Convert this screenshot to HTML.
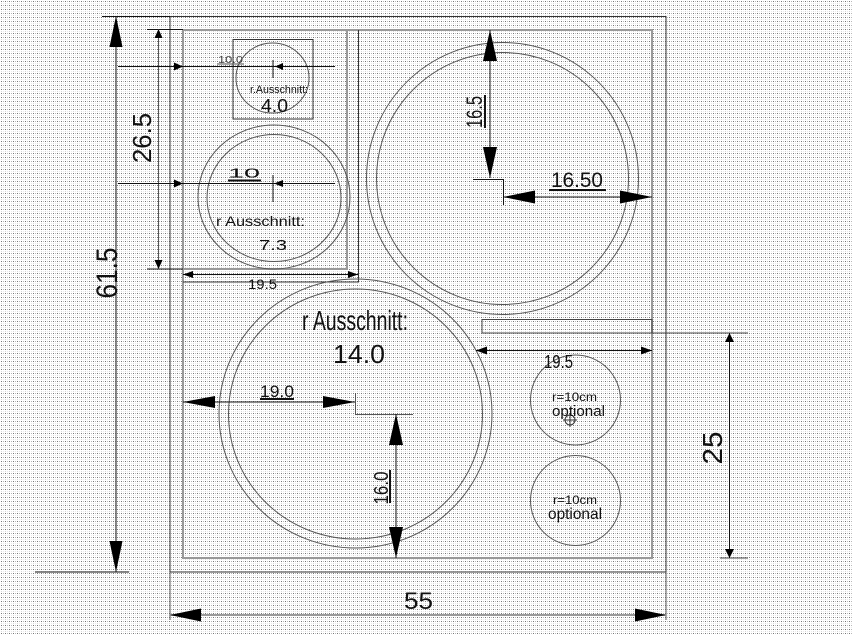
<!DOCTYPE html>
<html><head><meta charset="utf-8"><style>
html,body{margin:0;padding:0;background:#fff;}
svg{display:block;}
text{font-family:"Liberation Sans",Arial,sans-serif;fill:#111;}
</style></head><body>
<svg width="852" height="635" viewBox="0 0 852 635" xmlns="http://www.w3.org/2000/svg">
<defs>
<pattern id="d" width="4" height="4" patternUnits="userSpaceOnUse">
<rect width="4" height="4" fill="#fff"/>
<rect x="1" y="1" width="1" height="1" fill="#777"/>
<rect x="3" y="1" width="1" height="1" fill="#b8b8b8"/>
<rect x="1" y="3" width="1" height="1" fill="#d6d6d6"/>
<rect x="3" y="3" width="1" height="1" fill="#ececec"/>
</pattern>
</defs>
<rect width="852" height="635" fill="url(#d)"/>

<!-- outer frame -->
<rect x="170" y="16.5" width="496" height="555.5" fill="none" stroke="#333" stroke-width="1"/>
<!-- inner frame -->
<rect x="183" y="30" width="469" height="528" fill="none" stroke="#999" stroke-width="2"/>

<!-- left sub-compartment -->
<polyline points="347,30 347,269 183,269" fill="none" stroke="#999" stroke-width="2"/>
<polyline points="358.5,30 358.5,282 183,282" fill="none" stroke="#333" stroke-width="1"/>

<!-- small square + circle -->
<rect x="233" y="39.5" width="80" height="79.5" fill="none" stroke="#333" stroke-width="1"/>
<ellipse cx="272.5" cy="78" rx="36.5" ry="35" fill="none" stroke="#555" stroke-width="1"/>

<!-- 7.3 circle -->
<ellipse cx="274" cy="197" rx="76" ry="72" fill="none" stroke="#555" stroke-width="1"/>
<ellipse cx="274" cy="198" rx="67" ry="63.5" fill="none" stroke="#555" stroke-width="1"/>

<!-- top-right big circle -->
<circle cx="502.5" cy="178.5" r="136" fill="none" stroke="#555" stroke-width="1"/>
<circle cx="502.5" cy="178.5" r="126" fill="none" stroke="#555" stroke-width="1"/>

<!-- bottom big circle -->
<ellipse cx="355.5" cy="413.5" rx="136.5" ry="134.5" fill="none" stroke="#555" stroke-width="1"/>
<ellipse cx="355.5" cy="414" rx="127" ry="125" fill="none" stroke="#555" stroke-width="1"/>

<!-- small optional circles -->
<circle cx="575.5" cy="400" r="45" fill="none" stroke="#555" stroke-width="1"/>
<circle cx="575.5" cy="500.5" r="45" fill="none" stroke="#555" stroke-width="1"/>
<circle cx="570" cy="420" r="5" fill="none" stroke="#333" stroke-width="1"/>
<line x1="563" y1="420" x2="577" y2="420" stroke="#333" stroke-width="1"/>
<line x1="570" y1="413" x2="570" y2="427" stroke="#333" stroke-width="1"/>

<!-- right thin box -->
<rect x="482" y="319.5" width="170" height="13.5" fill="none" stroke="#444" stroke-width="1"/>

<!-- ===== dimension lines ===== -->
<g stroke="#111" stroke-width="1" fill="none">
<line x1="102" y1="16.5" x2="170" y2="16.5"/>
<line x1="35" y1="572" x2="129" y2="572"/>
<line x1="116" y1="16" x2="116" y2="572"/>
<line x1="147" y1="29.5" x2="183" y2="29.5"/>
<line x1="147" y1="269" x2="183" y2="269"/>
<line x1="158.5" y1="29" x2="158.5" y2="269" stroke="#555"/>
<line x1="118" y1="66.5" x2="335" y2="66.5"/>
<line x1="273" y1="60" x2="273" y2="78"/>
<line x1="118" y1="183.5" x2="335" y2="183.5"/>
<line x1="273" y1="175" x2="273" y2="202"/>
<line x1="183" y1="274.5" x2="358" y2="274.5"/>
<line x1="490" y1="30" x2="490" y2="178"/>
<polyline points="473,179.5 503.5,179.5 503.5,205"/>
<line x1="503" y1="197" x2="652" y2="197"/>
<line x1="476" y1="350.5" x2="652" y2="350.5"/>
<line x1="652" y1="333" x2="748" y2="333" stroke="#444"/>
<line x1="720" y1="558" x2="748" y2="558" stroke="#444"/>
<line x1="729.5" y1="333" x2="729.5" y2="558"/>
<line x1="183" y1="402" x2="355" y2="402"/>
<polyline points="355.5,393 355.5,414.5 413,414.5" stroke="#555"/>
<line x1="396" y1="414" x2="396" y2="558"/>
<line x1="170" y1="572" x2="170" y2="620" stroke="#555"/>
<line x1="666" y1="572" x2="666" y2="620" stroke="#555"/>
<line x1="170" y1="615" x2="666" y2="615" stroke="#999" stroke-width="2"/>
</g>

<!-- arrowheads -->
<g fill="#000" stroke="none">
<polygon points="116,16 109.5,47 122.5,47"/>
<polygon points="116,572 109.5,541 122.5,541"/>
<polygon points="158.5,29 154.5,38 162.5,38"/>
<polygon points="158.5,269 154.5,260 162.5,260"/>
<polygon points="183,66.5 174,62.5 174,70.5"/>
<polygon points="275,66.5 283,63 283,70"/>
<polygon points="183,183.5 174,179.5 174,187.5"/>
<polygon points="274,183.5 283,180 283,187"/>
<polygon points="183,274.5 193,271 193,278"/>
<polygon points="358,274.5 348,271 348,278"/>
<polygon points="490,30 483,61 497,61"/>
<polygon points="490,178 483,147 497,147"/>
<polygon points="503,197 535,190.5 535,203.5"/>
<polygon points="652,197 620,190.5 620,203.5"/>
<polygon points="476,350.5 487,346.5 487,354.5"/>
<polygon points="652,350.5 641,346.5 641,354.5"/>
<polygon points="729.5,333 725,342 734,342"/>
<polygon points="729.5,558 725,549 734,549"/>
<polygon points="183,402 215,396 215,408"/>
<polygon points="355,402 323,396 323,408"/>
<polygon points="396,414 389,445 403,445"/>
<polygon points="396,558 389,527 403,527"/>
<polygon points="170,615 201,608.5 201,621.5"/>
<polygon points="666,615 635,608.5 635,621.5"/>
</g>

<!-- underlines -->
<g stroke="#111" fill="none">
<line x1="217" y1="64" x2="244" y2="64" stroke="#555" stroke-width="1"/>
<line x1="228" y1="180.5" x2="261" y2="180.5" stroke-width="2"/>
<line x1="549" y1="190" x2="606" y2="190" stroke-width="2"/>
<line x1="260" y1="399" x2="294" y2="399" stroke-width="2"/>
<line x1="485" y1="95" x2="485" y2="128" stroke-width="2"/>
<line x1="390" y1="470" x2="390" y2="503" stroke-width="2"/>
</g>

<!-- texts -->
<text x="218" y="63" font-size="10" textLength="25" lengthAdjust="spacingAndGlyphs" style="fill:#444">10.0</text>
<text x="250" y="93" font-size="11" textLength="58" lengthAdjust="spacingAndGlyphs">r.Ausschnitt:</text>
<text x="261" y="112" font-size="18" textLength="27" lengthAdjust="spacingAndGlyphs">4.0</text>
<text x="228" y="177.5" font-size="13" textLength="32" lengthAdjust="spacingAndGlyphs">10</text>
<text x="216" y="226" font-size="14" textLength="89" lengthAdjust="spacingAndGlyphs">r Ausschnitt:</text>
<text x="259" y="250" font-size="15" textLength="28" lengthAdjust="spacingAndGlyphs">7.3</text>
<text x="248" y="289" font-size="13.5" textLength="29" lengthAdjust="spacingAndGlyphs">19.5</text>
<text x="551" y="187" font-size="21" textLength="52" lengthAdjust="spacingAndGlyphs">16.50</text>
<text x="302" y="330" font-size="28" textLength="106" lengthAdjust="spacingAndGlyphs">r Ausschnitt:</text>
<text x="333" y="363" font-size="26" textLength="52" lengthAdjust="spacingAndGlyphs">14.0</text>
<text x="260" y="397" font-size="17" textLength="34" lengthAdjust="spacingAndGlyphs">19.0</text>
<text x="544" y="368" font-size="18" textLength="29" lengthAdjust="spacingAndGlyphs">19.5</text>
<text x="552" y="401" font-size="12" textLength="45" lengthAdjust="spacingAndGlyphs">r=10cm</text>
<text x="552" y="416" font-size="15" textLength="53" lengthAdjust="spacingAndGlyphs">optional</text>
<text x="553" y="504" font-size="12" textLength="44" lengthAdjust="spacingAndGlyphs">r=10cm</text>
<text x="548" y="519" font-size="16" textLength="54" lengthAdjust="spacingAndGlyphs">optional</text>
<text x="404" y="609" font-size="24" textLength="29" lengthAdjust="spacingAndGlyphs">55</text>

<text transform="translate(117,273) rotate(-90)" text-anchor="middle" font-size="30" textLength="51" lengthAdjust="spacingAndGlyphs">61.5</text>
<text transform="translate(151,138) rotate(-90)" text-anchor="middle" font-size="26" textLength="50" lengthAdjust="spacingAndGlyphs">26.5</text>
<text transform="translate(482,112) rotate(-90)" text-anchor="middle" font-size="22" textLength="32" lengthAdjust="spacingAndGlyphs">16.5</text>
<text transform="translate(388,488) rotate(-90)" text-anchor="middle" font-size="20" textLength="33" lengthAdjust="spacingAndGlyphs">16.0</text>
<text transform="translate(722,448) rotate(-90)" text-anchor="middle" font-size="28" textLength="33" lengthAdjust="spacingAndGlyphs">25</text>
</svg>
</body></html>
